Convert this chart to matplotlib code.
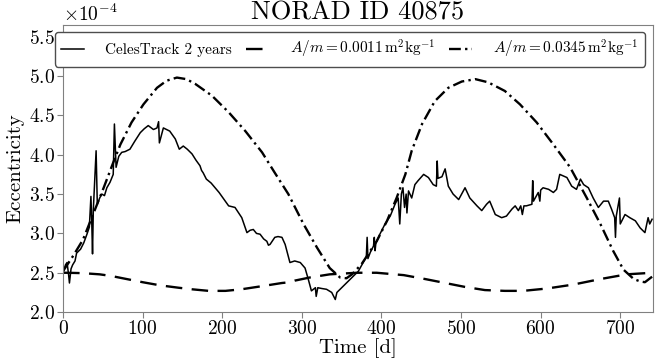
import matplotlib
matplotlib.use("Agg")
import matplotlib.pyplot as plt
import numpy as np

plt.rcParams['font.family'] = 'serif'
plt.rcParams['font.serif'] = ['cmr10']
plt.rcParams['mathtext.fontset'] = 'cm'
plt.rcParams['axes.formatter.use_mathtext'] = True

# CelesTrack observations (t in days, ecc in 1e-4)
t_obs = [0, 3, 5, 7, 8, 10, 12, 15, 17, 22, 26, 30, 33, 35, 36, 37, 38, 41.5, 43, 46,
         48.6, 52, 55, 59, 63, 64.5, 66.6, 70, 73.7, 78, 84, 90, 97, 102, 107, 113.5, 118, 120, 121, 126,
         134, 141, 146, 151, 156, 162, 167, 172, 174, 176, 180, 186, 191, 196, 201, 208, 212, 216, 220, 224.5,
         231, 235, 239, 243, 247.5, 252, 256, 258, 260, 266, 270, 275, 279, 285, 291, 298, 304, 308, 312, 317,
         318, 320, 325, 331, 337.5, 342, 344, 350, 358, 367, 371, 377, 381, 382, 383, 386, 390, 391, 392, 393,
         398, 404.5, 411, 417, 421, 423, 425, 427, 429, 431, 432, 434, 438, 442, 446, 453, 459, 465, 469, 470,
         471, 476, 480, 484, 490, 497, 505, 511, 520, 526, 532, 536, 543, 551, 557, 564, 568, 572, 575, 577,
         579, 582, 589, 590, 591, 597, 599, 600, 603, 610, 616, 620, 624, 628.5, 633, 639, 645, 650, 654, 660,
         666, 672.5, 679, 685, 689, 693, 694, 695, 699, 700, 706, 712, 719, 725, 731, 735, 737, 740]
e_obs = [2.50, 2.60, 2.63, 2.47, 2.37, 2.55, 2.60, 2.65, 2.75, 2.80, 2.88, 2.99, 3.08, 3.47, 3.16, 2.74, 3.30, 4.05, 3.37, 3.45,
         3.50, 3.48, 3.58, 3.65, 3.75, 4.39, 3.84, 3.98, 4.03, 4.04, 4.07, 4.17, 4.28, 4.33, 4.37, 4.32, 4.34, 4.42, 4.15, 4.34,
         4.30, 4.20, 4.07, 4.11, 4.07, 4.01, 3.93, 3.86, 3.80, 3.77, 3.69, 3.64, 3.58, 3.52, 3.45, 3.35, 3.34, 3.33, 3.27, 3.20,
         3.01, 3.04, 3.05, 3.00, 2.99, 2.93, 2.90, 2.85, 2.86, 2.95, 2.96, 2.95, 2.86, 2.63, 2.65, 2.63, 2.56, 2.42, 2.27, 2.31,
         2.20, 2.31, 2.30, 2.29, 2.25, 2.16, 2.25, 2.31, 2.39, 2.48, 2.52, 2.63, 2.70, 2.95, 2.68, 2.76, 2.84, 2.95, 2.78, 2.88,
         2.99, 3.12, 3.22, 3.37, 3.45, 3.12, 3.50, 3.58, 3.33, 3.50, 3.26, 3.54, 3.45, 3.62, 3.67, 3.75, 3.71, 3.62, 3.60, 3.92,
         3.70, 3.72, 3.82, 3.60, 3.50, 3.43, 3.58, 3.45, 3.35, 3.29, 3.37, 3.41, 3.24, 3.20, 3.22, 3.31, 3.35, 3.29, 3.35, 3.24,
         3.35, 3.35, 3.37, 3.67, 3.41, 3.52, 3.41, 3.55, 3.58, 3.56, 3.52, 3.56, 3.75, 3.73, 3.71, 3.60, 3.56, 3.69, 3.62, 3.58,
         3.45, 3.33, 3.41, 3.41, 3.31, 3.20, 2.95, 3.22, 3.45, 3.12, 3.24, 3.20, 3.16, 3.07, 3.01, 3.20, 3.12, 3.18]

# model A/m = 0.0011
t_low = [0, 5, 25, 46, 60, 80, 100, 122, 145, 162, 183, 204, 224, 250, 275, 285, 291, 310, 335, 369,
         394, 428, 455, 480, 505, 530, 555, 578, 608, 641, 675, 708, 740]
e_low = [2.50, 2.50, 2.495, 2.48, 2.46, 2.42, 2.38, 2.34, 2.31, 2.29, 2.27, 2.27, 2.29, 2.33, 2.37, 2.38, 2.40, 2.44, 2.48, 2.50,
         2.50, 2.47, 2.42, 2.37, 2.32, 2.28, 2.27, 2.27, 2.30, 2.35, 2.42, 2.48, 2.50]

# model A/m = 0.0345
t_high = [0, 2.5, 13, 25, 38, 51, 63, 72, 86, 101, 118, 130, 143, 155, 166, 187, 208, 229, 250, 266,
          283, 302, 319, 335, 348, 356, 363, 375, 394, 407, 419, 430, 438, 451, 467, 484, 501, 518, 534, 555,
          574, 595, 616, 637, 658, 675, 691, 704, 717, 725, 731, 740]
e_high = [2.52, 2.56, 2.72, 2.92, 3.25, 3.58, 3.90, 4.13, 4.41, 4.64, 4.85, 4.94, 4.98, 4.96, 4.90, 4.75, 4.54, 4.30, 4.03, 3.77,
          3.50, 3.12, 2.82, 2.56, 2.44, 2.43, 2.48, 2.61, 2.90, 3.16, 3.45, 3.75, 4.05, 4.39, 4.68, 4.85, 4.93, 4.96, 4.92, 4.81,
          4.64, 4.41, 4.13, 3.84, 3.45, 3.12, 2.78, 2.54, 2.42, 2.39, 2.38, 2.45]

scale = 1e-4

fig = plt.figure(figsize=(6.71, 3.6), dpi=100)
ax = fig.add_axes([0.094, 0.133, 0.879, 0.798])

ax.plot(t_obs, np.array(e_obs) * scale, color='black', lw=1.1, label='CelesTrack 2 years')
ax.plot(t_low, np.array(e_low) * scale, color='black', lw=1.7, dashes=(7, 4),
        label=r'$A/m = 0.0011\,\mathrm{m^2kg^{-1}}$')
ax.plot(t_high, np.array(e_high) * scale, color='black', lw=1.7, dashes=(5, 1.8, 1, 1.8),
        label=r'$A/m = 0.0345\,\mathrm{m^2kg^{-1}}$')

ax.set_xlim(0, 741)
ax.set_ylim(2.0e-4, 5.65e-4)
ax.set_xticks([0, 100, 200, 300, 400, 500, 600, 700])
ax.set_yticks(np.arange(2.0, 5.51, 0.5) * scale)
ax.ticklabel_format(axis='y', style='sci', scilimits=(-4, -4), useMathText=True)

for sp in ax.spines.values():
    sp.set_color('0.5')
ax.tick_params(colors='0.5', labelcolor='black', labelsize=14, length=4, pad=2)
ax.yaxis.get_offset_text().set_fontsize(14)

ax.set_title('NORAD ID 40875', fontsize=19, pad=3)
ax.set_xlabel('Time [d]', fontsize=15, labelpad=0)
ax.set_ylabel('Eccentricity', fontsize=15, labelpad=3)

leg = ax.legend(loc='upper left', bbox_to_anchor=(-0.0136, 0.0, 1.0, 0.975), mode='expand',
                ncol=3, fontsize=11, borderaxespad=0, framealpha=1, fancybox=True,
                handlelength=1.5, handletextpad=1.4)
leg.get_frame().set_edgecolor('0.3')

fig.savefig('out.png', dpi=100)
